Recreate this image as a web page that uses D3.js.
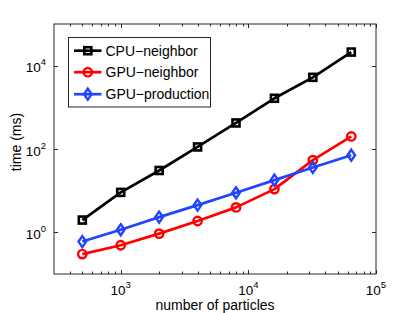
<!DOCTYPE html>
<html>
<head>
<meta charset="utf-8">
<script src="https://cdn.jsdelivr.net/npm/d3@7"></script>
<style>
  html, body { margin: 0; padding: 0; background: #fff; }
  svg { display: block; font-family: "Liberation Sans", Arial, Helvetica, sans-serif; }
</style>
</head>
<body>
<svg id="chart" width="415" height="313"></svg>
<script>
// ---- data ----
const particles = [500, 1000, 2000, 4000, 8000, 16000, 32000, 64000];
const cpuNeighbor = [1.97, 9.1, 30.5, 112, 422, 1650, 5250, 21200];
const gpuNeighbor = [0.30, 0.49, 0.93, 1.87, 3.97, 10.9, 54, 200];
const gpuProduction = [0.60, 1.15, 2.32, 4.5, 8.9, 17.9, 36, 71];
const seriesNames = ["CPU\u2212neighbor", "GPU\u2212neighbor", "GPU\u2212production"];
const xTickExps = [3, 4, 5];
const yTickExps = [0, 2, 4];
const xLabel = "number of particles";
const yLabel = "time (ms)";

// ---- layout ----
const L = 54, R = 376, T = 24, B = 274;
const svg = d3.select("#chart");
const x = d3.scaleLog().domain([300, 1e5]).range([L, R]);
const y = d3.scaleLog().domain([0.1, 1e5]).range([B, T]);

const axisColor = "#262626";

// plot box
svg.append("rect").attr("x", L).attr("y", T).attr("width", R - L).attr("height", B - T)
  .attr("fill", "#fff").attr("stroke", axisColor).attr("stroke-width", 1);

// x ticks (major + minor), bottom & top
const xMinor = [];
for (let e = 2; e <= 4; e++) for (let m = 2; m <= 9; m++) {
  const v = m * Math.pow(10, e);
  if (v > 300 && v < 1e5) xMinor.push(v);
}
const xMajor = xTickExps.map(e => Math.pow(10, e));
const tg = svg.append("g").attr("stroke", axisColor).attr("stroke-width", 1);
xMinor.forEach(v => {
  const px = Math.round(x(v)) + 0.5;
  tg.append("line").attr("x1", px).attr("x2", px).attr("y1", B).attr("y2", B - 2.5);
  tg.append("line").attr("x1", px).attr("x2", px).attr("y1", T).attr("y2", T + 2.5);
});
xMajor.forEach(v => {
  const px = Math.round(x(v)) + 0.5;
  tg.append("line").attr("x1", px).attr("x2", px).attr("y1", B).attr("y2", B - 4);
  tg.append("line").attr("x1", px).attr("x2", px).attr("y1", T).attr("y2", T + 4);
});
const yMajor = yTickExps.map(e => Math.pow(10, e));
yMajor.forEach(v => {
  const py = Math.round(y(v)) + 0.5;
  tg.append("line").attr("x1", L).attr("x2", L + 4).attr("y1", py).attr("y2", py);
  tg.append("line").attr("x1", R).attr("x2", R - 4).attr("y1", py).attr("y2", py);
});

// tick labels
const tickFont = 13.5, supFont = 9.5;
xTickExps.forEach(e => {
  const t = svg.append("text").attr("x", x(Math.pow(10, e))).attr("y", 295)
    .attr("text-anchor", "middle").attr("font-size", tickFont).attr("fill", "#000");
  t.append("tspan").text("10");
  t.append("tspan").attr("font-size", supFont).attr("dy", -7).text(e);
});
yTickExps.forEach(e => {
  const t = svg.append("text").attr("x", 46).attr("y", y(Math.pow(10, e)) + 6.5)
    .attr("text-anchor", "end").attr("font-size", tickFont).attr("fill", "#000");
  t.append("tspan").text("10");
  t.append("tspan").attr("font-size", supFont).attr("dy", -7).text(e);
});

// axis labels
svg.append("text").attr("x", (L + R) / 2).attr("y", 309.5).attr("text-anchor", "middle")
  .attr("font-size", 14).attr("fill", "#000").text(xLabel);
svg.append("text").attr("transform", `translate(21,${(T + B) / 2 - 7}) rotate(-90)`)
  .attr("text-anchor", "middle").attr("font-size", 14).attr("fill", "#000").text(yLabel);

// series
const colors = ["#000000", "#ff0000", "#2244ff"];
const markers = ["square", "circle", "diamond"];
const data = [cpuNeighbor, gpuNeighbor, gpuProduction];

function drawMarker(g, type, cx, cy, color) {
  if (type === "square") {
    g.append("rect").attr("x", cx - 3.5).attr("y", cy - 3.5).attr("width", 7).attr("height", 7)
      .attr("fill", "none").attr("stroke", color).attr("stroke-width", 2.6);
  } else if (type === "circle") {
    g.append("circle").attr("cx", cx).attr("cy", cy).attr("r", 4.2)
      .attr("fill", "none").attr("stroke", color).attr("stroke-width", 2.4);
  } else {
    g.append("path").attr("d", `M${cx},${cy - 5.5}L${cx + 3.8},${cy}L${cx},${cy + 5.5}L${cx - 3.8},${cy}Z`)
      .attr("fill", "none").attr("stroke", color).attr("stroke-width", 2.4);
  }
}

const line = d3.line().x(d => x(d[0])).y(d => y(d[1]));
data.forEach((vals, i) => {
  const pts = particles.map((p, j) => [p, vals[j]]);
  const g = svg.append("g");
  g.append("path").attr("d", line(pts)).attr("fill", "none")
    .attr("stroke", colors[i]).attr("stroke-width", 2.7).attr("stroke-linejoin", "round");
  pts.forEach(d => drawMarker(g, markers[i], x(d[0]), y(d[1]), colors[i]));
});

// legend
const lg = svg.append("g");
lg.append("rect").attr("x", 68.5).attr("y", 37.5).attr("width", 142).attr("height", 69.5)
  .attr("fill", "#fff").attr("stroke", axisColor).attr("stroke-width", 1);
const legendY = [50.7, 72.2, 94.2];
seriesNames.forEach((name, i) => {
  const ly = legendY[i];
  lg.append("line").attr("x1", 74).attr("x2", 101.5).attr("y1", ly).attr("y2", ly)
    .attr("stroke", colors[i]).attr("stroke-width", 2.7);
  drawMarker(lg, markers[i], 87.8, ly, colors[i]);
  lg.append("text").attr("x", 105.5).attr("y", ly + 5).attr("font-size", 14)
    .attr("fill", "#000").text(name);
});
</script>
</body>
</html>
